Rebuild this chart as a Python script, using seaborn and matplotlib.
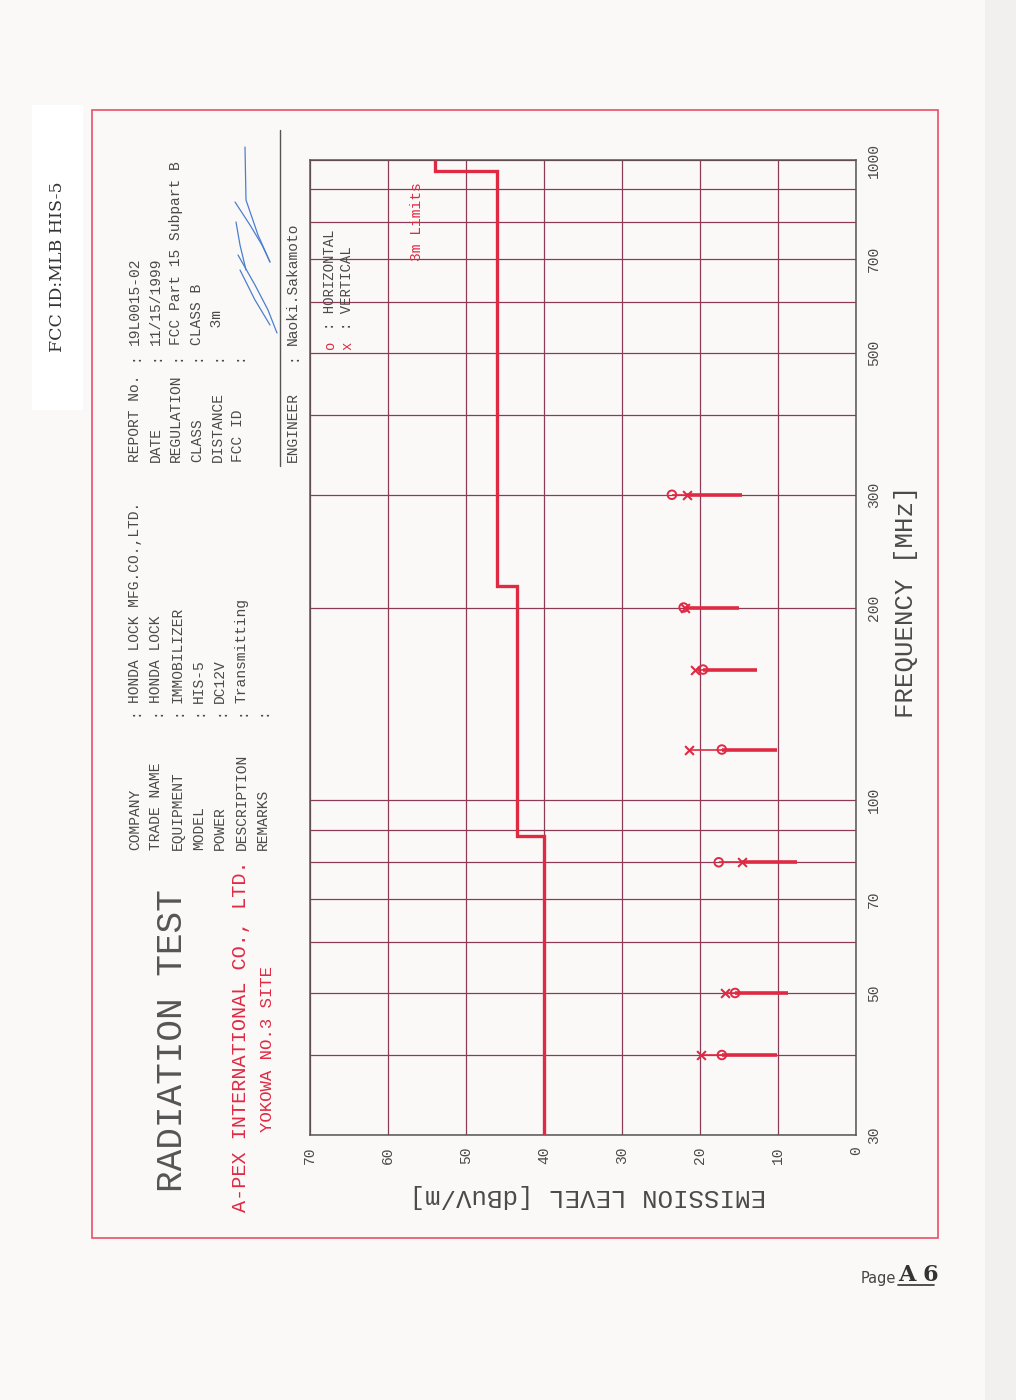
import matplotlib.pyplot as plt
import numpy as np
import pandas as pd
import seaborn as sns
from matplotlib.lines import Line2D
from matplotlib.patches import Rectangle

# measured emissions (MHz, dBuV/m)
freq_mhz = [40, 50, 80, 120, 160, 200, 300]
horizontal = [17.2, 15.5, 17.6, 17.2, 19.6, 22.1, 23.6]
vertical = [19.9, 16.8, 14.6, 21.4, 20.6, 21.9, 21.7]
bar_end = [10.1, 8.7, 7.6, 10.1, 12.7, 15.0, 14.6]

# FCC Part 15 class B, 3 m
limit_edges = [30, 88, 216, 960, 1000]
limit_levels = [40, 43.5, 46, 54]

level_ticks = [70, 60, 50, 40, 30, 20, 10, 0]
freq_ticks = [30, 50, 70, 100, 200, 300, 500, 700, 1000]
freq_grid = [40, 60, 80, 90, 400, 600, 800, 900]

info_left = [("COMPANY", "HONDA LOCK MFG.CO.,LTD."), ("TRADE NAME", "HONDA LOCK"),
             ("EQUIPMENT", "IMMOBILIZER"), ("MODEL", "HIS-5"), ("POWER", "DC12V"),
             ("DESCRIPTION", "Transmitting"), ("REMARKS", "")]
info_right = [("REPORT No.", "19L0015-02"), ("DATE", "11/15/1999"),
              ("REGULATION", "FCC Part 15 Subpart B"), ("CLASS", "CLASS B"),
              ("DISTANCE", "  3m"), ("FCC ID", "")]

W, H = 1016, 1400
INK = "#4a4a4a"
RED = "#e02a44"
GRID = "#8c3a58"
MONO = "Liberation Mono"

sns.set_theme(style="white")
plt.rcParams["font.family"] = [MONO, "DejaVu Sans Mono", "DejaVu Sans"]

fig = plt.figure(figsize=(W / 100, H / 100), dpi=100)
fig.patch.set_facecolor("#fbf9f7")


def px(x, y):
    return x / W, 1 - y / H


def vtext(x, y, s, size=10.5, color=INK, ha="left", **kw):
    fig.text(*px(x, y), s, rotation=90, rotation_mode="anchor", ha=ha,
             va="center", fontsize=size, color=color, **kw)


# page decorations
fig.add_artist(Rectangle(px(985, 1400), 31 / W, 1, transform=fig.transFigure,
                         facecolor="#f1f0ee", edgecolor="none", zorder=0))
fig.add_artist(Rectangle(px(32, 410), 51 / W, 305 / H, transform=fig.transFigure,
                         facecolor="white", edgecolor="none", zorder=0))
fig.add_artist(Rectangle(px(92, 1238), 846 / W, 1128 / H, transform=fig.transFigure,
                         facecolor="none", edgecolor="#e8506a", lw=1.2))
vtext(58, 352, "FCC ID:MLB HIS-5", size=12.5, color="#333333", family="DejaVu Serif")

# chart
ax = fig.add_axes([310 / W, 1 - 1135 / H, 546 / W, 975 / H])
ax.set_facecolor("none")

ax.stairs(limit_levels, limit_edges, orientation="horizontal", baseline=None,
          color=RED, lw=2.4, zorder=3)

meas = pd.DataFrame({
    "freq": freq_mhz * 2,
    "level": horizontal + vertical,
    "pol": ["H"] * len(freq_mhz) + ["V"] * len(freq_mhz),
})
peak = np.maximum(horizontal, vertical)
low = np.minimum(horizontal, vertical)
ax.hlines(freq_mhz, peak, bar_end, color=RED, lw=1.2, zorder=3)
ax.hlines(freq_mhz, low, bar_end, color=RED, lw=2.6, zorder=3)
sns.scatterplot(data=meas[meas["pol"] == "H"], x="level", y="freq", marker="o",
                s=38, facecolor="none", edgecolor=RED, linewidth=1.4,
                legend=False, ax=ax, zorder=4)
sns.scatterplot(data=meas[meas["pol"] == "V"], x="level", y="freq", marker="x",
                s=40, color=RED, linewidth=1.5, legend=False, ax=ax, zorder=4)

ax.set_xlim(70, 0)
ax.set_yscale("log")
ax.set_ylim(30, 1000)
ax.set_xticks(level_ticks)
ax.set_xticklabels([str(v) for v in level_ticks], rotation=90, fontsize=10.5, color=INK)
ax.set_yticks(freq_ticks)
ax.set_yticklabels([str(v) for v in freq_ticks], rotation=90, fontsize=10.5,
                   color=INK, va="center")
ax.set_yticks(freq_grid, minor=True)
ax.set_yticklabels([], minor=True)
ax.yaxis.tick_right()
ax.tick_params(axis="both", which="both", length=0, pad=8)
ax.grid(True, which="both", color=GRID, lw=0.9)
ax.set_axisbelow(True)
for sp in ax.spines.values():
    sp.set_color("#555555")
    sp.set_linewidth(1.1)
ax.set_xlabel("")
ax.set_ylabel("")

# axis titles
fig.text(*px(588, 1196), "EMISSION LEVEL [dBuV/m]", rotation=180, ha="center",
         va="center", fontsize=18.5, color=INK)
vtext(906, 602, "FREQUENCY [MHz]", size=18.5, ha="center")
vtext(417, 222, "3m Limits", size=10.5, color=RED, ha="center")

# headings
vtext(172, 1192, "RADIATION TEST", size=26, color="#555555")
vtext(241, 1212, "A-PEX INTERNATIONAL CO., LTD.", size=14.5, color=RED)
vtext(268, 1132, "YOKOWA NO.3 SITE", size=12.5, color=RED)

# info blocks
for i, (lab, val) in enumerate(info_left):
    x = 135 + 21.3 * i
    vtext(x, 850, lab)
    vtext(x, 716, ":")
    vtext(x, 703, val)
for i, (lab, val) in enumerate(info_right):
    x = 135 + 20.6 * i
    vtext(x, 462, lab)
    vtext(x, 361, ":")
    vtext(x, 345, val)

fig.add_artist(Line2D([280 / W, 280 / W], [1 - 130 / H, 1 - 466 / H],
                      transform=fig.transFigure, color="#555555", lw=1.0))
vtext(293, 462, "ENGINEER")
vtext(293, 361, ":")
vtext(293, 345, "Naoki.Sakamoto")

vtext(330, 350, "o", size=10, color=RED)
vtext(347, 350, "x", size=10, color=RED)
vtext(330, 330, ": HORIZONTAL", size=10)
vtext(347, 330, ": VERTICAL", size=10)

# signature
for xs, ys in [([245, 246, 258, 270], [147, 200, 235, 262]),
               ([235, 250, 262, 270], [202, 225, 245, 262]),
               ([236, 240, 246], [222, 245, 270]),
               ([238, 255, 268, 277], [255, 285, 310, 333]),
               ([240, 255, 270], [270, 300, 325])]:
    fig.add_artist(Line2D([v / W for v in xs], [1 - v / H for v in ys],
                          transform=fig.transFigure, color="#4a7fd0", lw=0.9))

# page number
fig.text(*px(861, 1283), "Page", fontsize=10.5, color="#444444",
         family="DejaVu Sans Condensed", ha="left", va="baseline")
fig.text(*px(898, 1281), "A 6", fontsize=16, color="#333333", family="DejaVu Serif",
         weight="bold", ha="left", va="baseline")
fig.add_artist(Line2D([898 / W, 934 / W], [1 - 1285 / H] * 2, transform=fig.transFigure,
                      color="#333333", lw=1.2))

fig.savefig("out.png", dpi=100, facecolor=fig.get_facecolor())
